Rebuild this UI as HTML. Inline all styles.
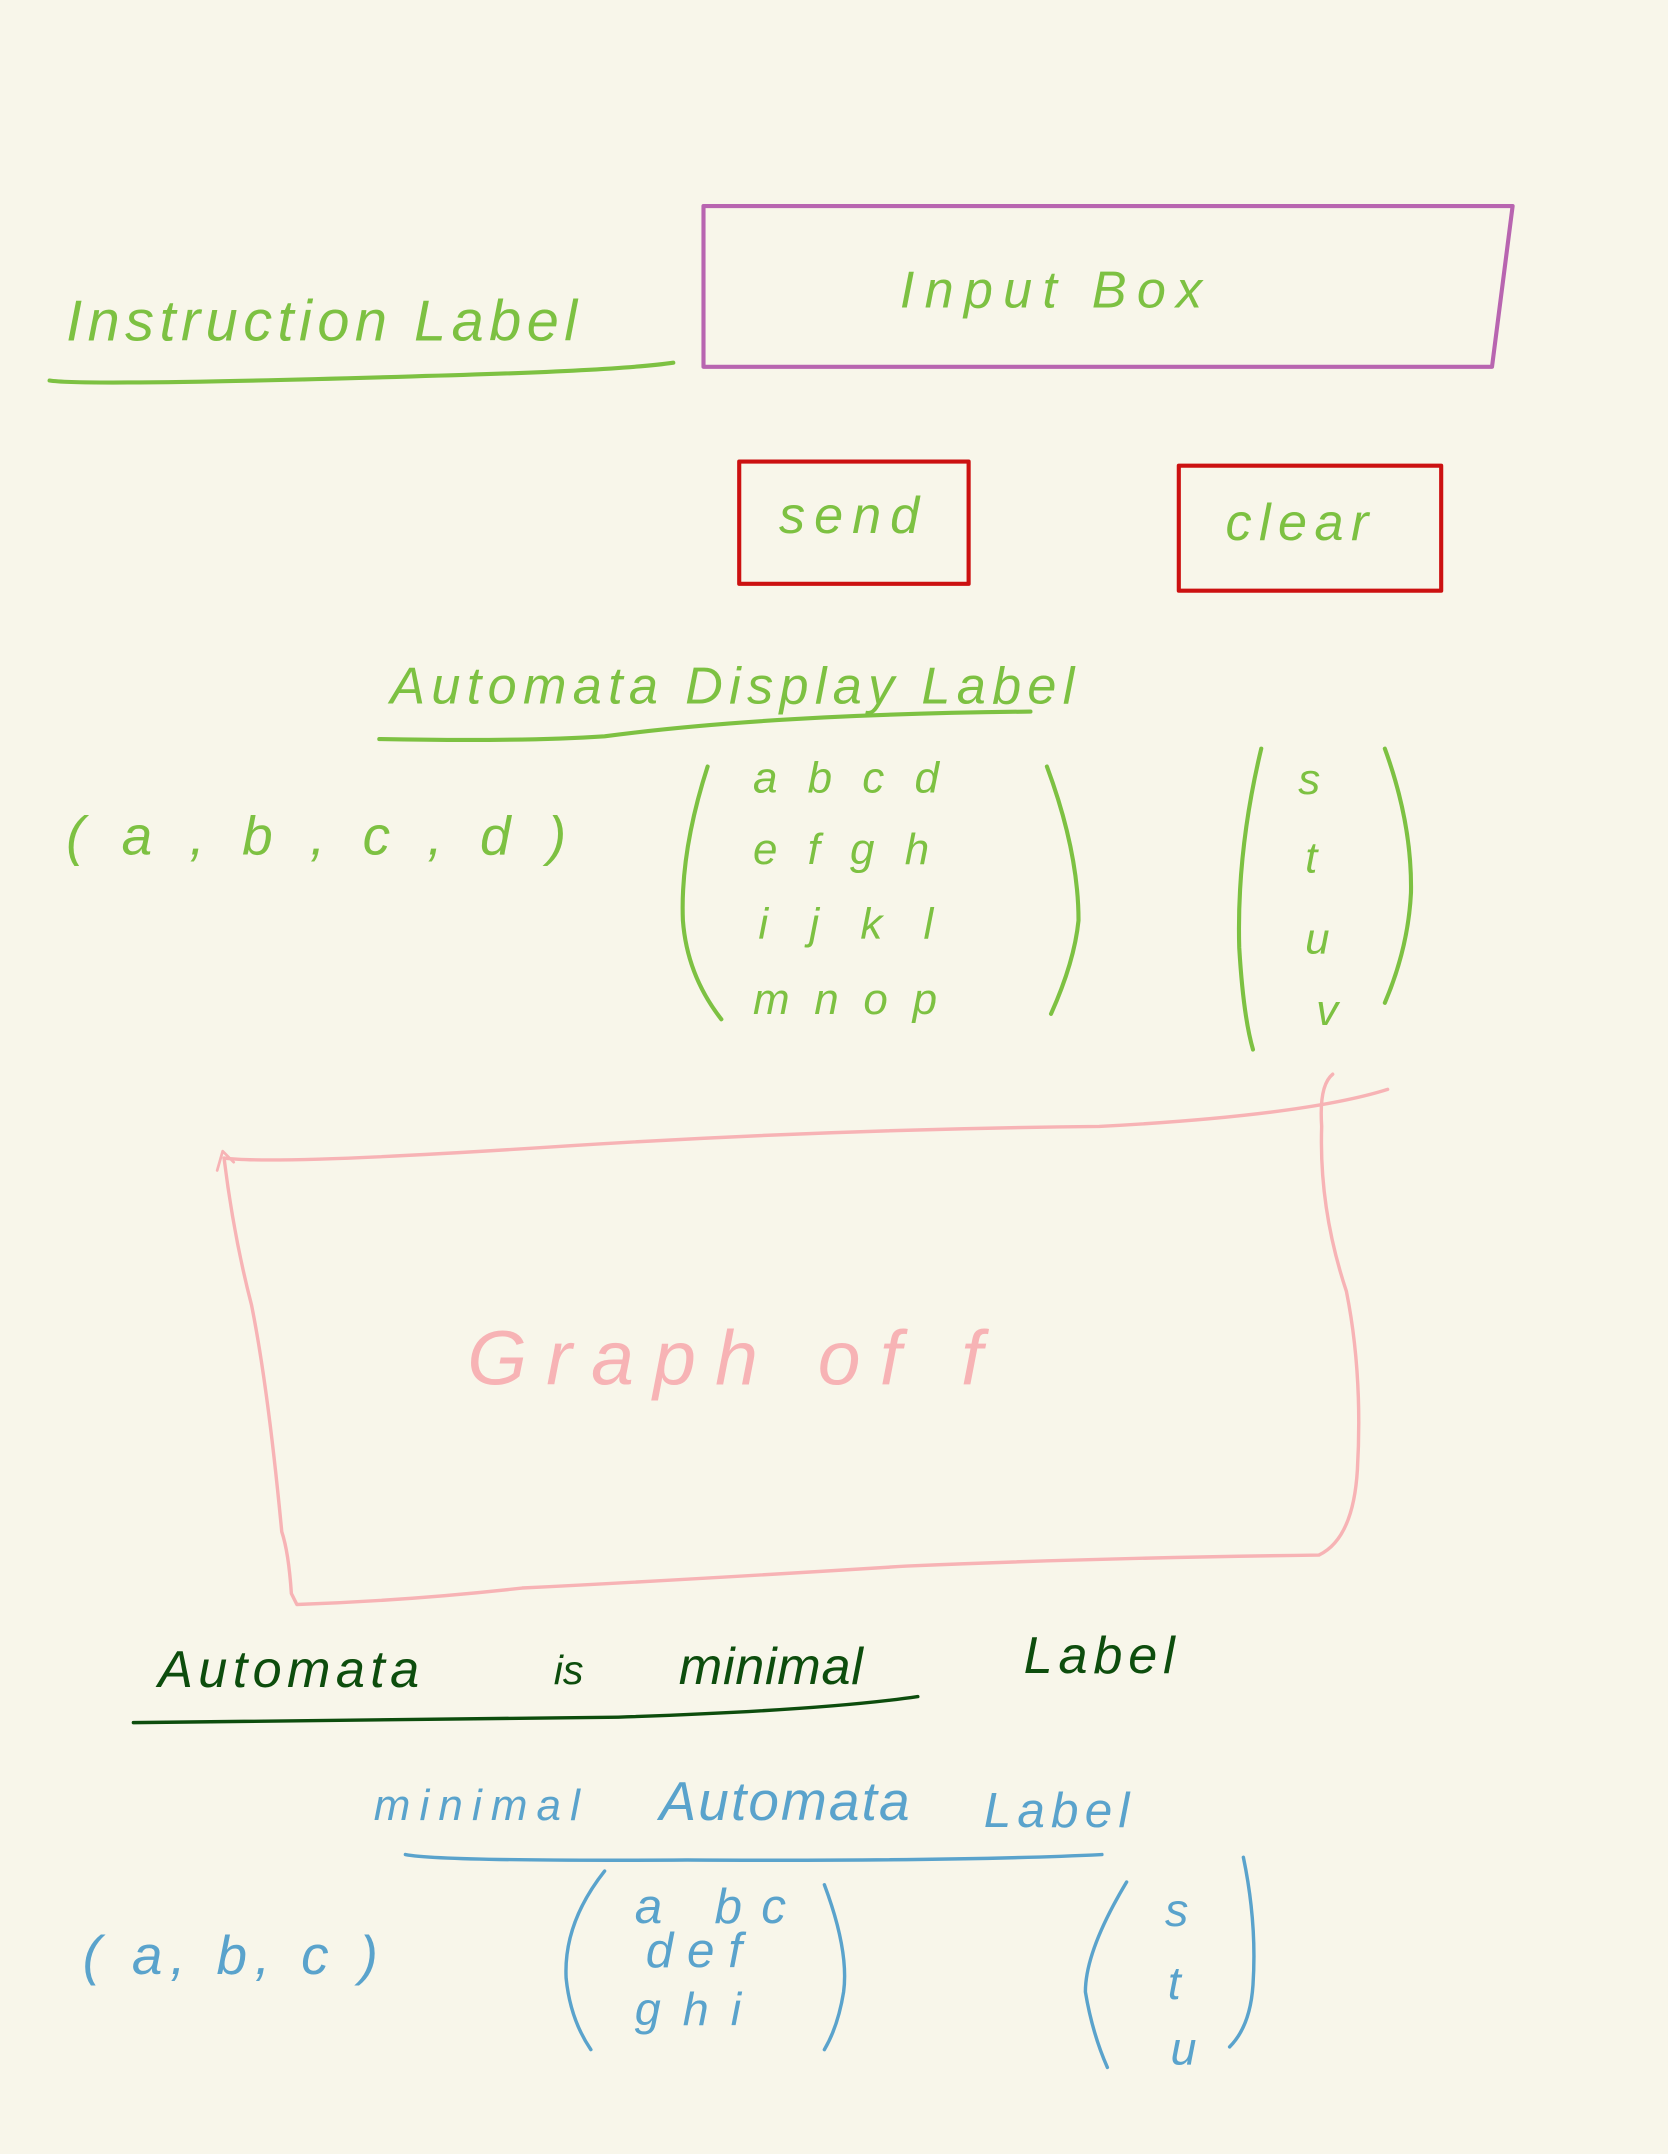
<!DOCTYPE html>
<html><head><meta charset="utf-8"><style>
html,body{margin:0;padding:0;background:#f8f6ea;}
svg{display:block;}
text{font-family:"Liberation Sans",sans-serif;font-style:italic;}
</style></head><body>
<svg width="1668" height="2154" viewBox="0 0 1214 1568" xmlns="http://www.w3.org/2000/svg">
<rect width="1214" height="1568" fill="#f8f6ea"/>
<g fill="none" stroke-linecap="round" stroke-linejoin="round">
<path d="M36 277 Q60 281 300 274 Q450 270 490 264" stroke="#7dc142" stroke-width="3"/>
<path d="M512 150 L1101 150 L1086 267 L512 267 Z" stroke="#b865b0" stroke-width="3"/>
<rect x="538" y="336" width="167" height="89" stroke="#cc1111" stroke-width="3"/>
<rect x="858" y="339" width="191" height="91" stroke="#cc1111" stroke-width="3"/>
<path d="M276 538 Q380 540 440 536 Q560 520 750 518" stroke="#7dc142" stroke-width="3"/>
<path d="M515 558 Q495 620 497 670 Q500 710 525 742" stroke="#7dc142" stroke-width="3"/>
<path d="M762 558 Q785 620 785 670 Q782 700 765 738" stroke="#7dc142" stroke-width="3"/>
<path d="M918 545 Q900 620 902 690 Q905 740 912 764" stroke="#7dc142" stroke-width="3"/>
<path d="M1008 545 Q1028 600 1027 650 Q1025 690 1008 730" stroke="#7dc142" stroke-width="3"/>
<path d="M163 843 Q200 848 400 835 Q600 822 800 820 Q950 812 1010 793" stroke="#f7b3b5" stroke-width="2.5"/>
<path d="M163 843 Q170 900 183 950 Q195 1010 205 1115 Q210 1130 212 1160 L216 1168 Q300 1165 380 1156 Q500 1150 660 1140 Q800 1134 960 1132 Q985 1120 988 1070 Q992 1000 980 940 Q960 880 962 820 Q960 790 970 782" stroke="#f7b3b5" stroke-width="2.5"/>
<path d="M158 852 L162 838 L170 846" stroke="#f7b3b5" stroke-width="2"/>
<path d="M97 1254 Q300 1252 450 1250 Q600 1245 668 1235" stroke="#0d4d0d" stroke-width="2.5"/>
<path d="M295 1350 Q320 1355 500 1354 Q700 1355 802 1350" stroke="#5aa3cc" stroke-width="2.5"/>
<path d="M440 1362 Q410 1400 412 1440 Q415 1470 430 1492" stroke="#5aa3cc" stroke-width="2.5"/>
<path d="M600 1372 Q618 1420 614 1450 Q610 1475 600 1492" stroke="#5aa3cc" stroke-width="2.5"/>
<path d="M820 1370 Q790 1420 790 1450 Q795 1480 806 1505" stroke="#5aa3cc" stroke-width="2.5"/>
<path d="M905 1352 Q915 1400 912 1445 Q910 1475 895 1490" stroke="#5aa3cc" stroke-width="2.5"/>
</g>
<g fill="#7dc142">
<text x="48" y="248" font-size="42" textLength="372" lengthAdjust="spacing">Instruction Label</text>
<text x="655" y="224" font-size="38" textLength="220" lengthAdjust="spacing">Input Box</text>
<text x="567" y="388" font-size="38" textLength="102" lengthAdjust="spacing">send</text>
<text x="892" y="393" font-size="38" textLength="104" lengthAdjust="spacing">clear</text>
<text x="284" y="512" font-size="38" textLength="498" lengthAdjust="spacing">Automata Display Label</text>
<text x="48" y="622" font-size="40" textLength="364" lengthAdjust="spacing">( a , b , c , d )</text>
<text x="548" y="577" font-size="32" letter-spacing="22">abcd</text>
<text x="548" y="629" font-size="32" letter-spacing="22">efgh</text>
<text x="552" y="683" font-size="32" letter-spacing="30">ijkl</text>
<text x="548" y="738" font-size="32" letter-spacing="18">mnop</text>
<text x="945" y="578" font-size="32">s</text>
<text x="950" y="635" font-size="32">t</text>
<text x="950" y="694" font-size="32">u</text>
<text x="958" y="746" font-size="32">v</text>
</g>
<text x="340" y="1008" fill="#f7b3b5" font-size="56" textLength="375" lengthAdjust="spacing">Graph of f</text>
<g fill="#0d4d0d" font-size="38">
<text x="115" y="1228" textLength="190" lengthAdjust="spacing">Automata</text>
<text x="403" y="1226" font-size="30">is</text>
<text x="494" y="1226" textLength="134" lengthAdjust="spacing">minimal</text>
<text x="745" y="1218" textLength="110" lengthAdjust="spacing">Label</text>
</g>
<g fill="#5aa3cc">
<text x="272" y="1325" font-size="32" textLength="150" lengthAdjust="spacing">minimal</text>
<text x="480" y="1325" font-size="40" textLength="182" lengthAdjust="spacing">Automata</text>
<text x="716" y="1330" font-size="36" textLength="106" lengthAdjust="spacing">Label</text>
<text x="60" y="1437" font-size="40" textLength="215" lengthAdjust="spacing">( a, b, c )</text>
<text x="462" y="1400" font-size="36" letter-spacing="14">a bc</text>
<text x="470" y="1432" font-size="36" letter-spacing="10">def</text>
<text x="462" y="1474" font-size="34" letter-spacing="16">ghi</text>
<text x="848" y="1402" font-size="34">s</text>
<text x="850" y="1455" font-size="34">t</text>
<text x="852" y="1503" font-size="34">u</text>
</g>
</svg>
</body></html>
